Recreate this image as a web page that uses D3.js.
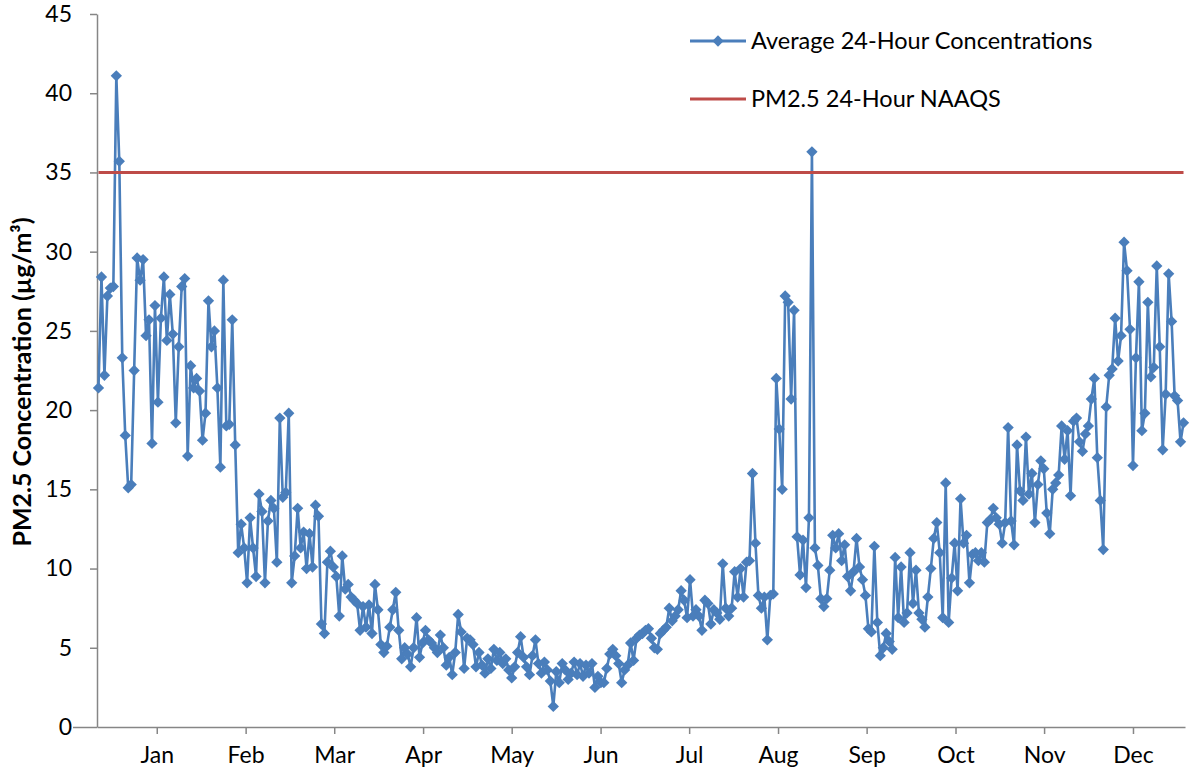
<!DOCTYPE html>
<html>
<head>
<meta charset="utf-8">
<style>
  body { margin: 0; background: #fff; }
  text { font-family: Lato, "Open Sans", sans-serif; fill: #000; }
</style>
</head>
<body>
<svg id="mainSvg" width="1203" height="777"></svg>
<script src="https://d3js.org/d3.v7.min.js"></script>
<script>
const months = ['Jan','Feb','Mar','Apr','May','Jun','Jul','Aug','Sep','Oct','Nov','Dec']
// month label positions, in day index units
const monthTicks = [19.6, 49.5, 79.3, 109.2, 139, 168.9, 198.7, 228.6, 258.4, 288.3, 318.1, 348]
const yTicks = [0, 5, 10, 15, 20, 25, 30, 35, 40, 45]
const naaqs = 35
// daily average 24-hour PM2.5 concentrations (ug/m3)
const concentrations = [
  21.4, 28.4, 22.2, 27.2, 27.7, 27.8, 41.1, 35.7, 23.3, 18.4,
  15.1, 15.3, 22.5, 29.6, 28.2, 29.5, 24.7, 25.7, 17.9, 26.6,
  20.5, 25.8, 28.4, 24.4, 27.3, 24.8, 19.2, 24.0, 27.8, 28.3,
  17.1, 22.8, 21.4, 22.0, 21.2, 18.1, 19.8, 26.9, 24.0, 25.0,
  21.4, 16.4, 28.2, 19.0, 19.1, 25.7, 17.8, 11.0, 12.8, 11.3,
  9.1, 13.2, 11.3, 9.5, 14.7, 13.6, 9.1, 13.0, 14.3, 13.8,
  10.4, 19.5, 14.5, 14.8, 19.8, 9.1, 10.8, 13.8, 11.3, 12.3,
  10.0, 12.2, 10.1, 14.0, 13.3, 6.5, 5.9, 10.4, 11.1, 10.1,
  9.5, 7.0, 10.8, 8.7, 9.0, 8.2, 8.0, 7.8, 6.1, 7.6,
  6.3, 7.7, 5.9, 9.0, 7.4, 5.2, 4.7, 5.1, 6.3, 7.4,
  8.5, 6.1, 4.3, 5.0, 4.6, 3.8, 5.0, 6.9, 4.4, 5.3,
  6.1, 5.5, 5.3, 5.0, 4.7, 5.8, 5.0, 3.9, 4.4, 3.3,
  4.7, 7.1, 6.0, 3.7, 5.6, 5.5, 5.2, 3.8, 4.7, 3.9,
  3.4, 4.3, 3.7, 4.9, 4.2, 4.7, 4.0, 4.3, 3.6, 3.1,
  3.8, 4.7, 5.7, 4.4, 3.8, 3.3, 4.5, 5.5, 4.0, 3.4,
  4.1, 3.6, 2.9, 1.3, 3.5, 2.8, 4.0, 3.6, 3.0, 3.4,
  4.1, 3.3, 4.0, 3.2, 3.9, 3.4, 4.0, 2.5, 3.2, 2.8,
  2.8, 3.7, 4.6, 4.9, 4.5, 4.0, 2.8, 3.6, 3.9, 5.3,
  4.2, 5.6, 5.8, 5.9, 6.1, 6.2, 5.6, 5.0, 4.9, 5.9,
  6.1, 6.3, 7.5, 6.7, 7.0, 7.4, 8.6, 8.0, 6.9, 9.3,
  7.0, 7.4, 7.0, 6.1, 8.0, 7.8, 6.5, 7.4, 7.2, 6.8,
  10.3, 7.5, 7.0, 7.5, 9.8, 8.2, 10.0, 8.2, 10.4, 10.5,
  16.0, 11.6, 8.3, 7.5, 8.2, 5.5, 8.3, 8.4, 22.0, 18.8,
  15.0, 27.2, 26.8, 20.7, 26.3, 12.0, 9.6, 11.8, 8.8, 13.2,
  36.3, 11.3, 10.2, 8.1, 7.6, 8.1, 9.9, 12.1, 11.3, 12.2,
  10.5, 11.5, 9.5, 8.6, 9.8, 11.9, 10.1, 9.3, 8.3, 6.2,
  6.0, 11.4, 6.6, 4.5, 5.0, 5.9, 5.4, 4.9, 10.7, 6.9,
  10.1, 6.6, 7.2, 11.0, 7.8, 9.9, 7.2, 6.8, 6.3, 8.2,
  10.0, 11.9, 12.9, 11.0, 6.9, 15.4, 6.6, 9.4, 11.6, 8.6,
  14.4, 11.6, 12.1, 9.1, 10.9, 11.0, 10.5, 11.0, 10.4, 12.9,
  13.1, 13.8, 13.2, 12.8, 11.6, 12.9, 18.9, 13.0, 11.5, 17.8,
  14.9, 14.3, 18.3, 14.7, 16.0, 12.9, 15.3, 16.8, 16.3, 13.5,
  12.2, 15.0, 15.4, 15.9, 19.0, 16.9, 18.7, 14.6, 19.3, 19.5,
  18.0, 17.4, 18.5, 19.0, 20.7, 22.0, 17.0, 14.3, 11.2, 20.2,
  22.2, 22.6, 25.8, 23.1, 24.7, 30.6, 28.8, 25.1, 16.5, 23.3,
  28.1, 18.7, 19.8, 26.8, 22.1, 22.7, 29.1, 24.0, 17.5, 21.0,
  28.6, 25.6, 20.9, 20.6, 18.0, 19.2
]

const svg = d3.select('#mainSvg')
const plot = { left: 97, right: 1185, top: 14, bottom: 727 }
const blue = '#4a7ebb', red = '#be4b48', axisColor = '#868686'

const xScale = d3.scaleLinear()
    .domain([-0.5, concentrations.length - 0.5])
    .range([plot.left, plot.right])
const yScale = d3.scaleLinear()
    .domain([0, 45])
    .range([plot.bottom, plot.top])

// y axis
const yAxis = svg.append('g')
    .attr('transform', `translate(${plot.left},0)`)
    .call(d3.axisLeft(yScale).tickValues(yTicks).tickSize(7).tickSizeOuter(0).tickPadding(18))
yAxis.selectAll('line').filter(d => d === 0).attr('x2', -24)

// x axis
const xAxis = svg.append('g')
    .attr('transform', `translate(0,${plot.bottom})`)
    .call(d3.axisBottom(xScale).tickValues(monthTicks).tickFormat((d, i) => months[i])
        .tickSize(7).tickSizeOuter(0).tickPadding(13))

svg.selectAll('.domain, .tick line').attr('stroke', axisColor).attr('stroke-width', 1.5)
svg.selectAll('.tick text').attr('font-size', 23).attr('fill', '#000')
    .style('font-family', 'Lato, "Open Sans", sans-serif')

// y label
svg.append('text')
    .attr('transform', `translate(31,382) rotate(-90)`)
    .attr('text-anchor', 'middle')
    .attr('font-size', 25)
    .attr('font-weight', 'bold')
    .text('PM2.5 Concentration (µg/m³)')

// concentration series
const line = d3.line()
    .x((d, i) => xScale(i))
    .y(d => yScale(d))

svg.append('path')
    .datum(concentrations)
    .attr('fill', 'none')
    .attr('stroke', blue)
    .attr('stroke-width', 2.6)
    .attr('stroke-linejoin', 'round')
    .attr('d', line)

const diamond = d3.symbol().type(d3.symbolSquare).size(64)
svg.append('g').selectAll('path')
    .data(concentrations)
    .join('path')
    .attr('d', diamond)
    .attr('fill', blue)
    .attr('transform', (d, i) => `translate(${xScale(i)},${yScale(d)}) rotate(45)`)

// NAAQS line
svg.append('line')
    .attr('x1', xScale(0))
    .attr('x2', xScale(concentrations.length - 1))
    .attr('y1', yScale(naaqs))
    .attr('y2', yScale(naaqs))
    .attr('stroke', red)
    .attr('stroke-width', 3)

// legend
const legend = svg.append('g').attr('transform', 'translate(690,0)')
legend.append('line').attr('x1', 0).attr('x2', 56).attr('y1', 41).attr('y2', 41)
    .attr('stroke', blue).attr('stroke-width', 3)
legend.append('path').attr('d', diamond).attr('fill', blue)
    .attr('transform', 'translate(28,41) rotate(45)')
legend.append('text').attr('x', 61).attr('y', 41).attr('dy', '0.35em')
    .attr('font-size', 23.5).text('Average 24-Hour Concentrations')
legend.append('line').attr('x1', 0).attr('x2', 56).attr('y1', 99).attr('y2', 99)
    .attr('stroke', red).attr('stroke-width', 3)
legend.append('text').attr('x', 61).attr('y', 99).attr('dy', '0.35em')
    .attr('font-size', 23.5).text('PM2.5 24-Hour NAAQS')
</script>
</body>
</html>
